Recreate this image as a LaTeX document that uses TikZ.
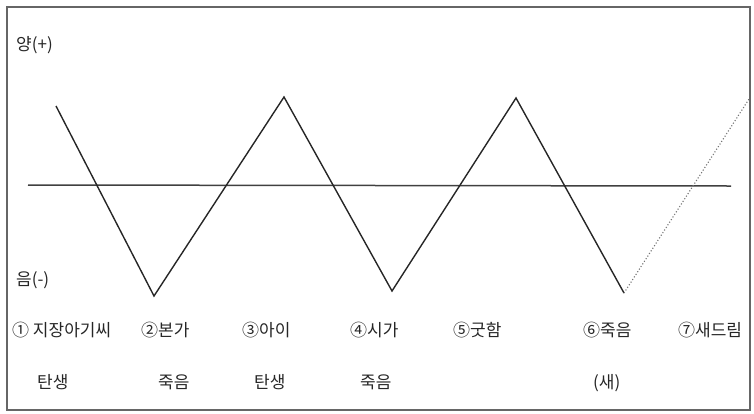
\documentclass[tikz,border=0pt]{standalone}
\usepackage{fontspec}
\newfontfamily\kr{Noto Sans CJK KR}
\begin{document}
\begin{tikzpicture}[x=1pt,y=-1pt,
  zig/.style={line width=1.4pt,color=black!85},
  axisline/.style={line width=1.5pt,color=black!75},
  dotline/.style={line width=1.1pt,color=black!55,dotted},
  lab/.style={font=\kr\fontsize{17}{19}\selectfont,text=black!85,inner sep=0pt,anchor=base west}]
\useasboundingbox (0,0) rectangle (754,413);
\draw[line width=1.2pt,color=black!60] (7,7) rectangle (750,410);
% vertices
\coordinate (s) at (56,106);
\coordinate (v1) at (154,296);
\coordinate (p1) at (284,97);
\coordinate (v2) at (392,291);
\coordinate (p2) at (516,98);
\coordinate (v3) at (624,293);
\coordinate (e) at (749,99);
\coordinate (hl) at (28,185);
\coordinate (hr) at (731,186);
\draw[axisline] (hl) -- (hr);
\draw[zig] (s) -- (v1) -- (p1) -- (v2) -- (p2) -- (v3);
\draw[dotline] (v3) -- (e);
% axis labels
\node[lab] (yang) at (16,50) {양(+)};
\node[lab] (eum) at (16,285) {음(-)};
% row 1
\node[lab] (l1) at (12,336) {① 지장아기씨};
\node[lab] (l2) at (141,336) {②본가};
\node[lab] (l3) at (242,336) {③아이};
\node[lab] (l4) at (350,336) {④시가};
\node[lab] (l5) at (453,336) {⑤굿함};
\node[lab] (l6) at (583,336) {⑥죽음};
\node[lab] (l7) at (678,336) {⑦새드림};
% row 2
\node[lab] (m1) at (37,388) {탄생};
\node[lab] (m2) at (158,388) {죽음};
\node[lab] (m3) at (254,388) {탄생};
\node[lab] (m4) at (360,388) {죽음};
\node[lab] (m6) at (593,388) {(새)};
\end{tikzpicture}
\end{document}
